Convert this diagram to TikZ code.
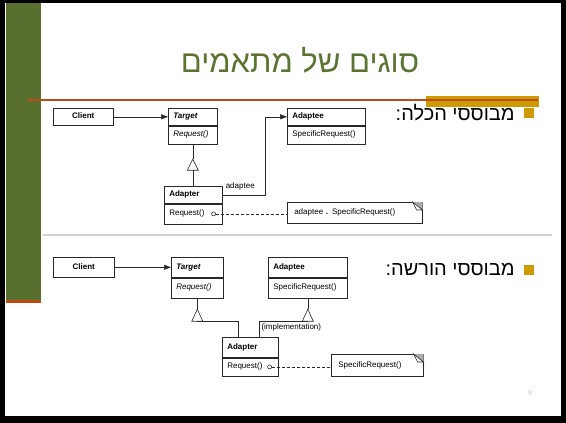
\documentclass[tikz,border=0pt]{standalone}
\usepackage{fontspec}
\setmainfont{Liberation Sans}
\newfontfamily\hebfont[Script=Hebrew]{Liberation Sans}
\TeXXeTstate=1
\usetikzlibrary{shapes,arrows.meta,positioning}

\definecolor{slidegreen}{RGB}{88,111,46}
\definecolor{titlegreen}{RGB}{92,116,50}
\definecolor{rustline}{RGB}{190,75,20}
\definecolor{gold}{RGB}{205,155,0}
\definecolor{sepgrey}{RGB}{212,212,212}
\definecolor{umlline}{RGB}{40,40,40}

\begin{document}
\begin{tikzpicture}[%
    x=1pt, y=-1pt,              % pixel units, origin top left
    >={Triangle[length=7pt, width=5pt]}, % filled UML arrow heads
    node distance=0pt,          % class parts sit edge to edge
    ]
% -------------------------------------------------
% Styles for the slide and the class boxes
\tikzset{
  box/.style={draw=umlline, line width=0.6pt, fill=white, anchor=north west,
    inner xsep=5pt, inner ysep=0pt, align=left, text height=6pt, text depth=2pt,
    font=\fontsize{8}{9}\selectfont},
  hdr/.style={box, text width=#1, minimum height=17pt, font=\fontsize{8}{9}\selectfont\bfseries},
  ops/.style={box, text width=#1, minimum height=18pt},
  note/.style={box, inner xsep=7pt, minimum height=21pt},
  lbl/.style={inner sep=0pt, font=\fontsize{8}{9}\selectfont},
  it/.style={font=\fontsize{8}{9}\selectfont\itshape},
  bit/.style={font=\fontsize{8}{9}\selectfont\bfseries\itshape},
  % Connector line styles
  line/.style={draw=umlline, line width=0.6pt},
  norm/.style={->, line},
  dep/.style={line, dash pattern=on 3pt off 2pt},
  inh/.style={line, fill=white},
  hole/.style={circle, draw=umlline, line width=0.6pt, fill=white, inner sep=0pt, minimum size=4pt},
  % Slide parts
  hebtxt/.style={inner sep=0pt, font=\hebfont\fontsize{20}{24}\selectfont},
  bulletsq/.style={fill=gold, inner sep=0pt, minimum size=10pt},
}
\useasboundingbox (0,0) rectangle (566,423);
% -------------------------------------------------
% Slide frame and template
\fill[black] (0,0) rectangle (566,423);
\fill[white] (5,3) rectangle (561,416);
\fill[slidegreen] (6,3) rectangle (41,300);
\fill[rustline] (6,300) rectangle (41,303);
\fill[gold] (426,96) rectangle (539,107);
\draw[rustline, line width=1.2pt] (27,100) -- (538,100);
\draw[sepgrey, line width=2.5pt] (43,235) -- (552,235);

\node[text=titlegreen, font=\hebfont\fontsize{31}{36}\selectfont] (title) at (300,60)
  {\beginR סוגים של מתאמים\endR};

\node[bulletsq] (sq1) at (529,113) {};
\node[hebtxt, left=9pt of sq1] (bul1) {\beginR מבוססי הכלה:\endR};
\node[bulletsq] (sq2) at (529,270) {};
\node[hebtxt, left=9pt of sq2] (bul2) {\beginR מבוססי הורשה:\endR};

% -------------------------------------------------
% Object adapter (composition)
\node[hdr=50, align=center] (client1) at (53,108) {Client};
\node[hdr=39, bit] (target1) at (168,108) {Target};
\node[ops=39, it, below=of target1] (target1ops) {Request()};
\node[hdr=68] (adaptee1) at (287,108) {Adaptee};
\node[ops=68, below=of adaptee1] (adaptee1ops) {SpecificRequest()};
\node[hdr=48] (adapter1) at (164,186) {Adapter};
\node[ops=48, minimum height=20pt, below=of adapter1] (adapter1ops) {Request()};
\node[note, text width=121] (note1) at (287,202) {adaptee {\bfseries .} SpecificRequest()};

\draw[norm] (client1) -- (target1);
\draw[line] (target1ops.south) -- ++(0,15) coordinate (apex1);
\path (apex1) ++(0,11) coordinate (base1);
\draw[line] (base1) -- (base1 |- adapter1.north);
\draw[inh] (apex1) -- ++(5.5,11) -- ++(-11,0) -- cycle;
\draw[norm] (adapter1.east) -- ++(43,0) coordinate (knee1) |- (adaptee1.west);
\node[lbl, above right=4pt and 3pt of adapter1.east] (adapteelbl) {adaptee};
\node[hole] (hole1) at ([xshift=-9pt]adapter1ops.east) {};
\draw[dep] (hole1) -- (hole1 -| note1.west);

% -------------------------------------------------
% Class adapter (inheritance)
\node[hdr=51, align=center, minimum height=20pt] (client2) at (53,257) {Client};
\node[hdr=42, bit, minimum height=20pt] (target2) at (171,257) {Target};
\node[ops=42, it, minimum height=20pt, below=of target2] (target2ops) {Request()};
\node[hdr=69, minimum height=20pt] (adaptee2) at (268,257) {Adaptee};
\node[ops=69, minimum height=20pt, below=of adaptee2] (adaptee2ops) {SpecificRequest()};
\node[hdr=46, minimum height=20pt] (adapter2) at (222,337) {Adapter};
\node[ops=46, below=of adapter2] (adapter2ops) {Request()};
\node[note, text width=78, minimum height=22pt] (note2) at (331,354) {SpecificRequest()};

\draw[norm] (client2) -- (target2);
\draw[line] (target2ops.south) -- ++(0,11) coordinate (apex2);
\path (apex2) ++(0,12) coordinate (base2);
\draw[line] (base2) -| ([xshift=-12pt]adapter2.north);
\draw[inh] (apex2) -- ++(5.5,12) -- ++(-11,0) -- cycle;
\draw[line] (adaptee2ops.south) -- ++(0,11) coordinate (apex3);
\path (apex3) ++(0,12) coordinate (base3);
\path (base3 -| adapter2.north) ++(9,0) coordinate (knee3);
\draw[line] (base3) -- (knee3) -- (knee3 |- adapter2.north);
\draw[inh] (apex3) -- ++(5.5,12) -- ++(-11,0) -- cycle;
\node[lbl, below right=2pt and 2pt of knee3] (impl) {(implementation)};
\node[hole] (hole2) at ([xshift=-9pt]adapter2ops.east) {};
\draw[dep] (hole2) -- (hole2 -| note2.west);

% dog-ear corners of the notes
\foreach \n in {note1,note2}{
  \fill[gray!65] ([xshift=-10pt]\n.north east) -- (\n.north east) -- ([yshift=-8pt]\n.north east) -- cycle;
  \draw[line, fill=white] ([xshift=-10pt]\n.north east) -- ([xshift=-6pt,yshift=-8pt]\n.north east)
    -- ([yshift=-8pt]\n.north east) -- cycle;
}

\node[text=gray!45, font=\fontsize{7}{8}\selectfont] (pagenum) at (530,393) {9};
% -------------------------------------------------
\end{tikzpicture}
\end{document}
